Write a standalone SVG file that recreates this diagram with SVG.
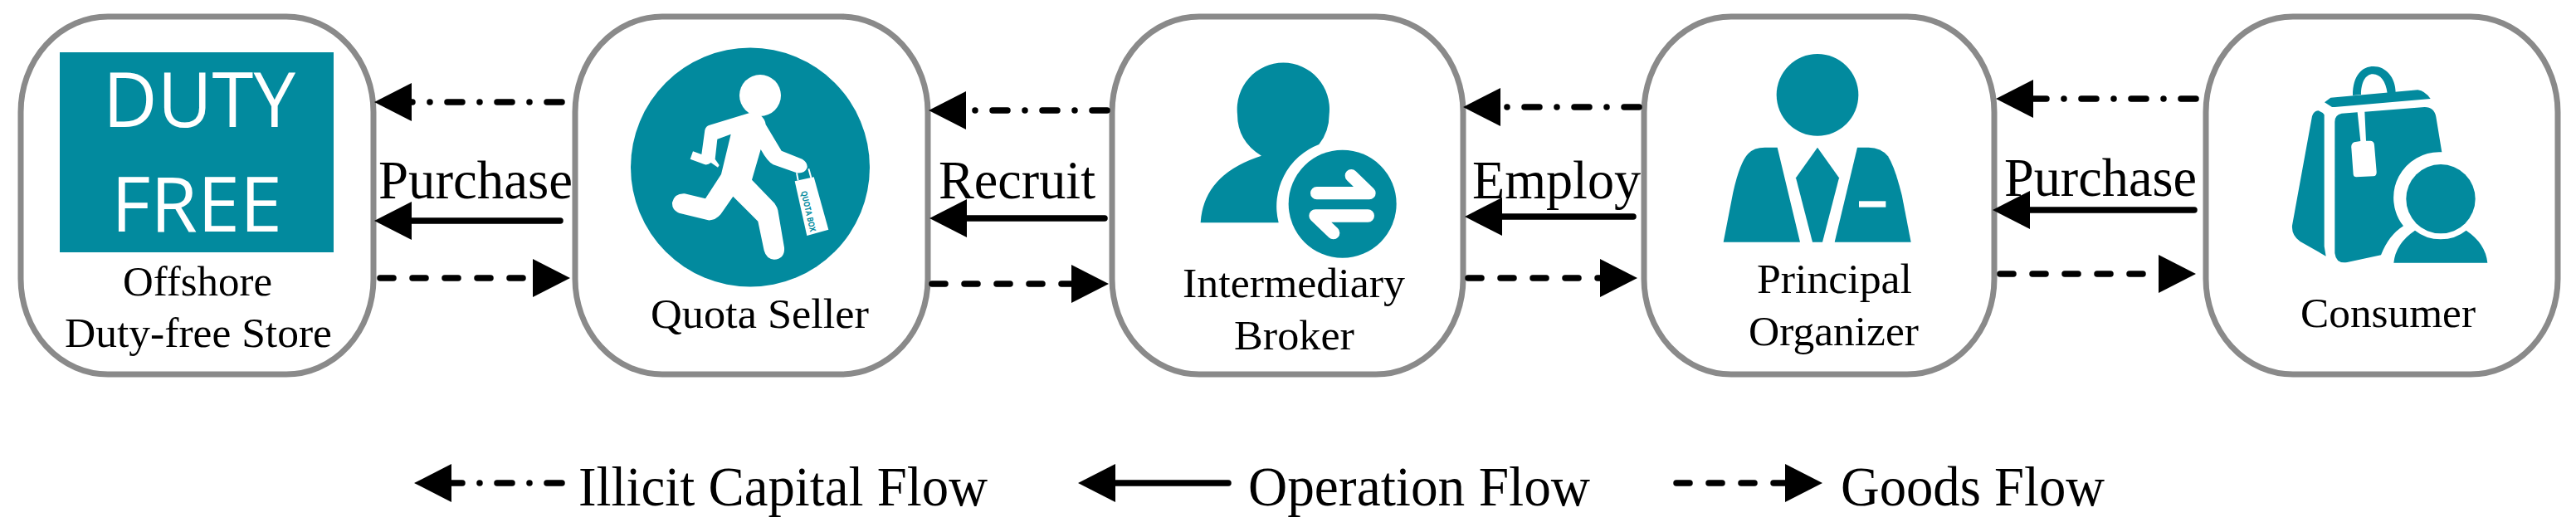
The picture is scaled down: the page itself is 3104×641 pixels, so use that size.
<svg xmlns="http://www.w3.org/2000/svg" width="3104" height="641" viewBox="0 0 3104 641">
<style>
.box{fill:#fff;stroke:#8a8a8a;stroke-width:7}
.t{fill:#028a9e}
.w{fill:#fff}
text{font-family:"Liberation Serif","Times New Roman",serif;fill:#000}
.n{font-size:50px}
.e{font-size:66px}
.l{font-size:68px}
.df{font-family:"Open Sans","Liberation Sans",sans-serif;font-size:92px;fill:#fff}
.c{fill:none;stroke:#000;stroke-width:7.5;stroke-linecap:round}
.dd{stroke-dasharray:18 21 .01 21;marker-end:url(#h)}
.so{marker-end:url(#h)}
.da{stroke-dasharray:16 23;marker-end:url(#h)}
</style>
<defs>
<marker id="h" markerUnits="userSpaceOnUse" viewBox="0 -23 45 46" refX="0" refY="0" markerWidth="45" markerHeight="46" orient="auto"><path d="M0,-23 L45,0 L0,23Z"/></marker>
</defs>
<rect width="3104" height="641" fill="#fff"/>
<g id="offshore-store">
<rect class="box" x="25" y="20" width="425" height="431" rx="105" ry="115"/>
<rect class="t" x="72" y="63" width="330" height="241"/>
<text class="df" x="124" y="153" textLength="232" lengthAdjust="spacingAndGlyphs">DUTY</text>
<text class="df" x="134" y="279" textLength="206" lengthAdjust="spacingAndGlyphs">FREE</text>
<text class="n" x="148" y="356" textLength="180" lengthAdjust="spacingAndGlyphs">Offshore</text>
<text class="n" x="78" y="418" textLength="322" lengthAdjust="spacingAndGlyphs">Duty-free Store</text>
</g>
<g id="quota-seller">
<rect class="box" x="693" y="20" width="425" height="431" rx="105" ry="115"/>
<circle class="t" cx="904" cy="201.5" r="144"/>
<g transform="translate(740 60) scale(.33333)">
<circle class="w" cx="528" cy="165" r="75"/>
<path class="w" d="M490,228 L530,238 Q545,250 548,270 L605,365 L680,395 Q700,408 698,425 Q690,448 660,445 L575,415 Q555,405 530,360 L498,470 L580,555 Q590,570 592,580 L615,715 Q618,755 578,758 Q550,755 542,725 L520,620 L430,530 L385,595 Q365,618 340,616 L235,590 Q208,578 210,552 Q218,518 255,520 L330,538 L387,450 L422,305 L373,323 L365,395 L380,417 L375,425 L350,408 Q335,420 320,412 L275,395 L285,367 L316,378 L328,290 Q332,275 345,272 Z"/>
<path class="w" d="M653,475 L722,460 L775,650 L697,672 Z"/>
<path d="M660,445 L665,472 M703,430 L712,462" fill="none" stroke="#fff" stroke-width="6"/>
</g>
<text transform="translate(965 231) rotate(77)" font-size="10" font-weight="700" style="font-family:'Open Sans','Liberation Sans',sans-serif;fill:#028a9e" textLength="50" lengthAdjust="spacingAndGlyphs">QUOTA BOX</text>
<text class="n" x="784" y="395" textLength="263" lengthAdjust="spacingAndGlyphs">Quota Seller</text>
</g>
<g id="intermediary-broker">
<rect class="box" x="1340" y="20" width="423" height="431" rx="105" ry="115"/>
<g transform="translate(1430 70) scale(.33333)">
<path class="t" d="M50,595 Q60,420 270,353 Q183,300 183,203 A167,168 0 1 1 515,203 Q515,265 478,312 A240,240 0 0 0 332,595 Z"/>
<circle class="t" cx="563" cy="527" r="195"/>
<path d="M470,488 H660 L595,425 M655,570 H465 L530,632" fill="none" stroke="#fff" stroke-width="46" stroke-linecap="round" stroke-linejoin="round"/>
</g>
<text class="n" x="1425" y="358" textLength="268" lengthAdjust="spacingAndGlyphs">Intermediary</text>
<text class="n" x="1487" y="421" textLength="145" lengthAdjust="spacingAndGlyphs">Broker</text>
</g>
<g id="principal-organizer">
<rect class="box" x="1981" y="20" width="422" height="431" rx="105" ry="115"/>
<g transform="translate(2060 55) scale(.33333)">
<circle class="t" cx="390" cy="178" r="148"/>
<path class="t" d="M50,710 L85,530 Q110,420 140,390 Q160,368 200,368 L245,368 L327,710 Z"/>
<path class="t" d="M390,368 L468,478 L408,710 L372,710 L312,478 Z"/>
<path class="t" d="M452,710 L534,368 L575,368 Q620,368 645,400 Q670,440 695,540 L728,710 Z"/>
<rect class="w" x="540" y="562" width="97" height="22"/>
</g>
<text class="n" x="2117" y="353" textLength="187" lengthAdjust="spacingAndGlyphs">Principal</text>
<text class="n" x="2107" y="416" textLength="205" lengthAdjust="spacingAndGlyphs">Organizer</text>
</g>
<g id="consumer">
<rect class="box" x="2658" y="20" width="424" height="431" rx="105" ry="115"/>
<g transform="translate(2750 70) scale(.33333)">
<path class="t" d="M255,135 C255,60 290,30 330,30 C375,30 410,70 410,125 L380,127 C375,85 355,58 328,58 C300,58 285,90 285,132 Z"/>
<path class="t" d="M153,160 L175,143 L490,115 Q515,118 536,147 L190,177 L180,177 Z"/>
<path class="t" d="M108,210 Q115,190 130,190 Q145,195 152,205 L152,680 L158,716 L65,663 Q33,640 36,605 Z"/>
<path class="t" d="M190,230 Q190,205 215,200 L272,196 L283,300 L260,304 Q248,310 250,325 L257,420 Q258,430 268,430 L330,427 Q342,425 341,410 L333,315 Q332,300 320,299 L303,299 L298,194 L515,177 Q550,178 556,212 L577,340 A165,165 0 0 0 438,607 Q385,640 357,712 L235,738 Q195,745 190,705 Z"/>
<circle class="t" cx="573" cy="509" r="125"/>
<path class="t" d="M403,740 Q410,670 480,623 Q520,655 573,655 Q625,655 665,623 Q735,670 742,740 Z"/>
</g>
<text class="n" x="2772" y="394" textLength="211" lengthAdjust="spacingAndGlyphs">Consumer</text>
</g>
<g id="connectors">
<path class="c dd" d="M677,123 H496"/>
<path class="c so" d="M675,266 H496"/>
<path class="c da" d="M458,335 H642"/>
<path class="c dd" d="M1334,133 H1164"/>
<path class="c so" d="M1331,263 H1165"/>
<path class="c da" d="M1123,342 H1291"/>
<path class="c dd" d="M1975,129 H1808"/>
<path class="c so" d="M1968,261 H1810"/>
<path class="c da" d="M1769,335 H1928"/>
<path class="c dd" d="M2646,119 H2450"/>
<path class="c so" d="M2644,253 H2446"/>
<path class="c da" d="M2410,330 H2601"/>
</g>
<g id="edge-labels">
<text class="e" x="456" y="239" textLength="234" lengthAdjust="spacingAndGlyphs">Purchase</text>
<text class="e" x="1131" y="239" textLength="189" lengthAdjust="spacingAndGlyphs">Recruit</text>
<text class="e" x="1774" y="239" textLength="203" lengthAdjust="spacingAndGlyphs">Employ</text>
<text class="e" x="2415" y="236" textLength="232" lengthAdjust="spacingAndGlyphs">Purchase</text>
</g>
<g id="legend">
<path class="c dd" d="M677,582 H544"/>
<text class="l" x="697" y="609" textLength="493" lengthAdjust="spacingAndGlyphs">Illicit Capital Flow</text>
<path class="c so" d="M1480,582 H1344"/>
<text class="l" x="1504" y="609" textLength="412" lengthAdjust="spacingAndGlyphs">Operation Flow</text>
<path class="c da" d="M2020,582 H2151"/>
<text class="l" x="2218" y="609" textLength="318" lengthAdjust="spacingAndGlyphs">Goods Flow</text>
</g>
</svg>
